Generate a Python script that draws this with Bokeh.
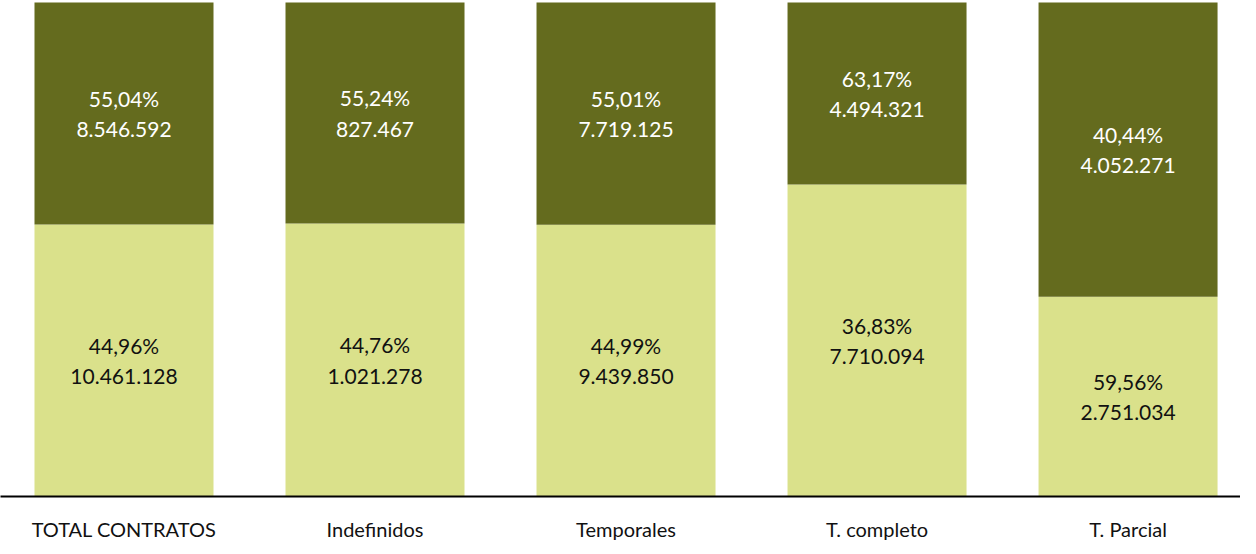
from bokeh.plotting import figure
from bokeh.models import ColumnDataSource, Range1d, FixedTicker
from bokeh.embed import file_html
from bokeh.resources import INLINE
from bokeh.core.properties import value

categories = ["TOTAL CONTRATOS", "Indefinidos", "Temporales", "T. completo", "T. Parcial"]
bottom_counts = [10461128, 1021278, 9439850, 7710094, 2751034]
top_counts = [8546592, 827467, 7719125, 4494321, 4052271]
bottom_pct = ["44,96%", "44,76%", "44,99%", "36,83%", "59,56%"]
top_pct = ["55,04%", "55,24%", "55,01%", "63,17%", "40,44%"]

DARK = "#646B1E"
LIGHT = "#DAE18B"
FONT = "Lato"


def fmt(n):
    return f"{n:,}".replace(",", ".")


xs = list(range(len(categories)))
bot_frac = [b / (b + t) for b, t in zip(bottom_counts, top_counts)]
src = ColumnDataSource(dict(
    x=xs,
    bf=bot_frac,
    one=[1.0] * len(xs),
    zero=[0.0] * len(xs),
    bmid=[f / 2 for f in bot_frac],
    tmid=[(1 + f) / 2 for f in bot_frac],
    btxt=[f"{p}\n{fmt(c)}" for p, c in zip(bottom_pct, bottom_counts)],
    ttxt=[f"{p}\n{fmt(c)}" for p, c in zip(top_pct, top_counts)],
))

p = figure(width=1240, height=543, output_backend="svg", toolbar_location=None,
           x_range=Range1d(-0.492, 4.448), y_range=Range1d(0, 1.004),
           min_border_left=0, min_border_right=0, min_border_top=0, min_border_bottom=0)
p.outline_line_color = None
p.xgrid.visible = False
p.ygrid.visible = False
p.yaxis.visible = False

W = 179 / 251
p.vbar(x="x", bottom="zero", top="bf", width=W, source=src, fill_color=LIGHT, line_color=None)
p.vbar(x="x", bottom="bf", top="one", width=W, source=src, fill_color=DARK, line_color=None)

p.text(x="x", y="bmid", text="btxt", source=src, text_align="center", text_baseline="middle",
       text_font=value(FONT), text_font_size="21px", text_color="#111111", text_line_height=1.22)
p.text(x="x", y="tmid", text="ttxt", source=src, text_align="center", text_baseline="middle",
       text_font=value(FONT), text_font_size="21px", text_color="#FFFFFF", text_line_height=1.22)

ax = p.xaxis[0]
ax.ticker = FixedTicker(ticks=xs)
ax.major_label_overrides = {i: c for i, c in zip(xs, categories)}
ax.major_tick_line_color = None
ax.minor_tick_line_color = None
ax.major_tick_out = 0
ax.major_tick_in = 0
ax.minor_tick_out = 0
ax.axis_line_color = "#000000"
ax.axis_line_width = 2
ax.major_label_text_font = FONT
ax.major_label_text_font_size = "20px"
ax.major_label_text_color = "#111111"
ax.major_label_standoff = 20

open("out.html", "w").write(file_html(p, INLINE))
